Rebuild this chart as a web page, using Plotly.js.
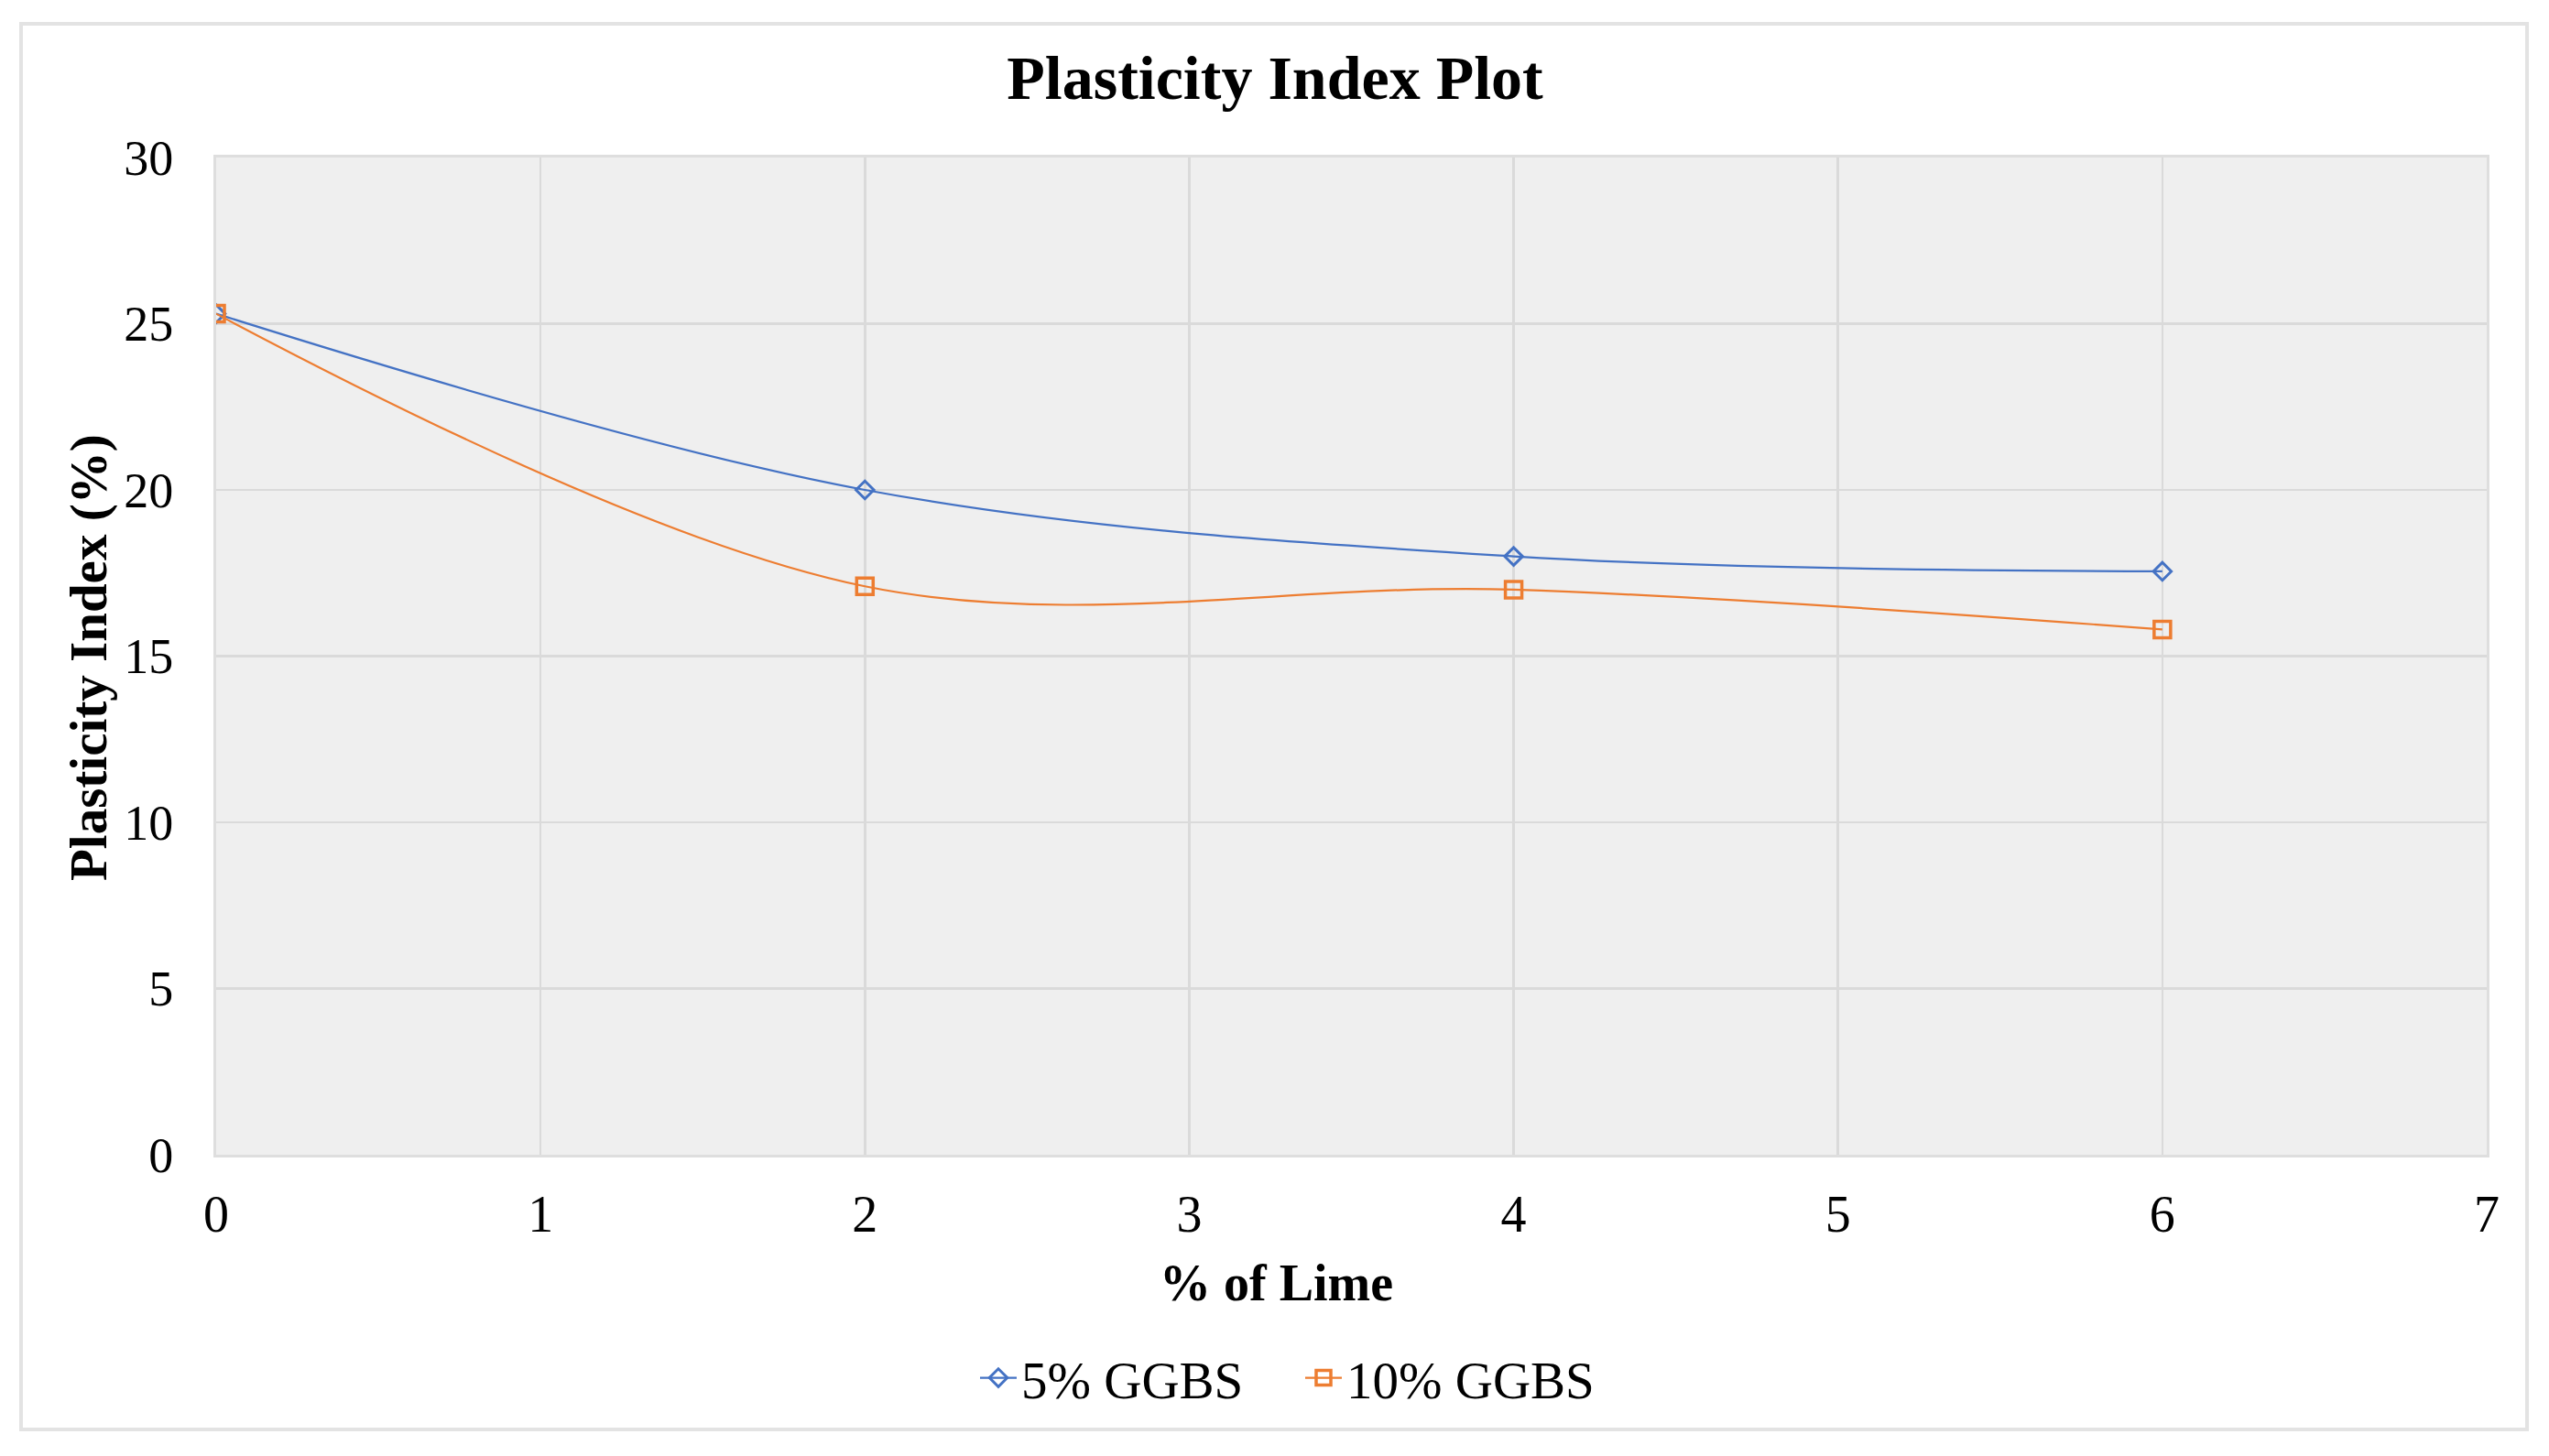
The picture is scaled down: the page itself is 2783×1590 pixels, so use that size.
<!DOCTYPE html>
<html>
<head>
<meta charset="utf-8">
<script src="https://cdn.plot.ly/plotly-3.0.1.min.js"></script>
<style>
  html, body { margin: 0; padding: 0; background: #ffffff; }
  #chart { width: 2783px; height: 1590px; }
</style>
</head>
<body>
<div id="chart"></div>
<script>
// ---- Data ----
const limePercent = [0, 2, 4, 6];
const ggbs5 = [25.3, 20.0, 18.0, 17.55];
const ggbs10 = [25.3, 17.1, 17.0, 15.8];
const seriesNames = ["5% GGBS", "10% GGBS"];
const xTickValues = [0, 1, 2, 3, 4, 5, 6, 7];
const yTickValues = [0, 5, 10, 15, 20, 25, 30];
const chartTitle = "Plasticity Index Plot";
const xTitle = "% of Lime";
const yTitle = "Plasticity Index (%)";

const W = 2783, H = 1590;
const L = 236, R = 2715, T = 172, B = 1261;
const pw = R - L, ph = B - T;
const FONT = "'Liberation Serif', 'Times New Roman', serif";

const traces = [
  {
    x: limePercent, y: ggbs5, name: seriesNames[0],
    type: "scatter", mode: "lines+markers",
    line: { color: "#4472C4", width: 2.2, shape: "spline", smoothing: 1 },
    marker: { symbol: "diamond-open", size: 15, color: "#4472C4", line: { width: 3, color: "#4472C4" } }
  },
  {
    x: limePercent, y: ggbs10, name: seriesNames[1],
    type: "scatter", mode: "lines+markers",
    line: { color: "#ED7D31", width: 2.2, shape: "spline", smoothing: 1 },
    marker: { symbol: "square-open", size: 18, color: "#ED7D31", line: { width: 3.5, color: "#ED7D31" } }
  }
];

const layout = {
  width: W, height: H,
  margin: { l: L, r: W - R, t: T, b: H - B, pad: 0 },
  paper_bgcolor: "#ffffff",
  plot_bgcolor: "#efefef",
  font: { family: FONT, size: 56, color: "#000000" },
  title: {
    text: "<b>" + chartTitle + "</b>",
    font: { family: FONT, size: 68, color: "#000000" },
    x: 1392 / W, xanchor: "center", xref: "container",
    y: 1 - 84 / H, yref: "container", yanchor: "middle"
  },
  xaxis: {
    range: [0, 7],
    tickmode: "array", tickvals: xTickValues, ticktext: xTickValues.map(String),
    showgrid: true, gridcolor: "#dadada", gridwidth: 2.5,
    zeroline: false,
    showline: true, linecolor: "#dedede", linewidth: 3, mirror: true,
    ticks: "", ticklabelstandoff: 14,
    tickfont: { family: FONT, size: 56, color: "#000000" },
    fixedrange: true
  },
  yaxis: {
    range: [0, 30],
    tickmode: "array", tickvals: yTickValues, ticktext: yTickValues.map(String),
    showgrid: true, gridcolor: "#dadada", gridwidth: 2.5,
    zeroline: false,
    showline: true, linecolor: "#dedede", linewidth: 3, mirror: true,
    ticks: "", ticklabelstandoff: 33,
    tickfont: { family: FONT, size: 54, color: "#000000" },
    fixedrange: true
  },
  annotations: [
    {
      text: "<b>" + xTitle + "</b>", showarrow: false,
      xref: "paper", yref: "paper",
      x: (1393 - L) / pw, y: (B - 1401) / ph, xanchor: "center", yanchor: "middle",
      font: { family: FONT, size: 56, color: "#000000" }
    },
    {
      text: "<b>" + yTitle + "</b>", showarrow: false, textangle: -90,
      xref: "paper", yref: "paper",
      x: (97 - L) / pw, y: (B - 718) / ph, xanchor: "center", yanchor: "middle",
      font: { family: FONT, size: 57, color: "#000000" }
    }
  ],
  showlegend: true,
  legend: {
    orientation: "h",
    x: (1065 - L) / pw, xanchor: "left", xref: "paper",
    y: (B - 1505) / ph, yanchor: "middle",
    font: { family: FONT, size: 57, color: "#000000" },
    bgcolor: "rgba(0,0,0,0)",
    itemwidth: 40, tracegroupgap: 0,
    entrywidth: 300, entrywidthmode: "pixels"
  },
  shapes: [
    {
      type: "rect", xref: "paper", yref: "paper",
      x0: (23 - L) / pw, x1: (2759 - L) / pw,
      y0: (B - 1561) / ph, y1: (B - 26) / ph,
      line: { color: "#e3e3e3", width: 4 }, fillcolor: "rgba(0,0,0,0)", layer: "below"
    }
  ]
};

Plotly.newPlot("chart", traces, layout, { displayModeBar: false, staticPlot: true });
</script>
</body>
</html>
